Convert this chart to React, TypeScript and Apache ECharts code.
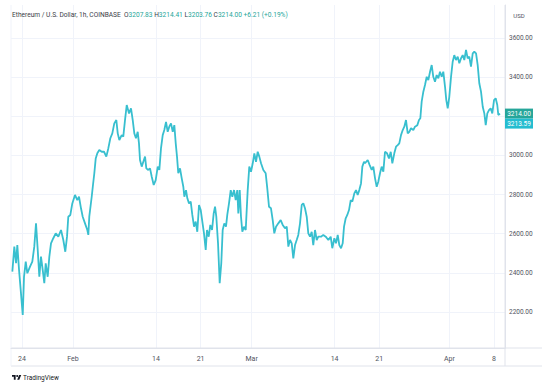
import React, { useEffect, useRef } from "react";
import * as echarts from "echarts";

// ---------- data ----------
const BASE_DATE = "2022-02-01T00:00:00Z";
// [days since 2022-02-01 00:00 UTC, ETH/USD price]
const priceHistory: [number, number][] = [
  [-9.51, 2406], [-9.2, 2534], [-8.93, 2449], [-8.73, 2542], [-8.46, 2415], [-8.2, 2313], [-7.88, 2185], [-7.68, 2380],
  [-7.41, 2457], [-7.16, 2398], [-6.74, 2432], [-6.38, 2457], [-6.07, 2534], [-5.8, 2653], [-5.53, 2517], [-5.28, 2380],
  [-5.02, 2483], [-4.75, 2415], [-4.5, 2347], [-4.28, 2449], [-3.97, 2380], [-3.71, 2483], [-3.45, 2551], [-3.09, 2577],
  [-2.71, 2602], [-2.3, 2585], [-1.88, 2619], [-1.52, 2568], [-1.21, 2508], [-0.94, 2585], [-0.74, 2687], [-0.42, 2696],
  [-0.11, 2755], [0.31, 2798], [0.67, 2772], [0.94, 2789], [1.25, 2730], [1.52, 2687], [1.88, 2653], [2.24, 2619],
  [2.4, 2594], [2.55, 2687], [2.93, 2789], [3.13, 2849], [3.34, 2909], [3.56, 2985], [3.81, 3011], [4.12, 3028],
  [4.5, 3019], [4.86, 3019], [5.22, 2994], [5.53, 3036], [5.85, 3088], [6.16, 3113], [6.47, 3164], [6.79, 3181],
  [7.01, 3113], [7.26, 3079], [7.63, 3104], [7.88, 3096], [8.15, 3181], [8.42, 3258],
  [8.78, 3215], [9.09, 3241], [9.36, 3181], [9.61, 3113], [9.87, 3088], [10.14, 3121], [10.34, 3062], [10.5, 2977],
  [10.77, 2943], [11.02, 2968], [11.29, 2994], [11.49, 2934], [11.8, 2926], [12.07, 2934], [12.34, 2891], [12.65, 2849],
  [12.96, 2874], [13.28, 2943], [13.53, 2926], [13.79, 3036], [14.06, 3104], [14.31, 3130], [14.58, 3172], [14.84, 3121],
  [15.09, 3147], [15.36, 3164], [15.63, 3121], [15.88, 3155], [16.1, 3062], [16.3, 2994], [16.5, 2909], [16.77, 2934],
  [17.04, 2883], [17.29, 2840], [17.45, 2789], [17.71, 2823], [17.92, 2781], [18.18, 2755], [18.45, 2764], [18.7, 2696],
  [18.97, 2636], [19.23, 2662], [19.48, 2610], [19.75, 2747], [20.02, 2721], [20.27, 2662], [20.53, 2602], [20.8, 2517],
  [21.0, 2619], [21.27, 2585], [21.52, 2645], [21.79, 2619], [22.05, 2704], [22.26, 2738], [22.46, 2687], [22.73, 2551],
  [22.99, 2347], [23.24, 2449], [23.46, 2619], [23.71, 2653], [23.98, 2636], [24.18, 2696], [24.45, 2755], [24.72, 2823],
  [24.97, 2789], [25.24, 2823], [25.5, 2772], [25.75, 2823], [25.91, 2704], [26.13, 2823], [26.33, 2687], [26.54, 2610],
  [26.8, 2636], [27.07, 2619],
  [27.38, 2823], [27.63, 2943], [27.9, 2917], [28.17, 2960], [28.42, 3011], [28.68, 2968], [28.95, 3019], [29.2, 2994],
  [29.47, 2960], [29.83, 2926], [30.2, 2909], [30.45, 2832], [30.72, 2738], [31.03, 2730], [31.3, 2670], [31.55, 2602],
  [31.82, 2636], [32.18, 2653], [32.55, 2670], [32.87, 2645], [33.23, 2628], [33.5, 2636], [33.75, 2534], [34.01, 2568],
  [34.28, 2551], [34.53, 2474], [34.8, 2542], [35.06, 2568], [35.31, 2594], [35.58, 2653], [35.85, 2747], [36.1, 2755],
  [36.36, 2730], [36.63, 2687], [36.88, 2602], [37.15, 2585], [37.41, 2610], [37.66, 2542], [37.93, 2619], [38.2, 2568],
  [38.45, 2585], [38.87, 2585], [39.23, 2594], [39.61, 2585], [40.02, 2568], [40.39, 2585], [40.64, 2526], [40.96, 2577],
  [41.22, 2551], [41.49, 2594], [41.74, 2542], [42.01, 2526], [42.27, 2551], [42.48, 2636], [42.74, 2679], [42.99, 2696],
  [43.26, 2721], [43.53, 2772], [43.78, 2764], [44.09, 2806], [44.36, 2823], [44.62, 2798], [44.87, 2823], [45.14, 2857],
  [45.35, 2943], [45.61, 2968],
  [45.77, 2960], [46.19, 2977], [46.5, 2951], [46.82, 2926], [47.07, 2943], [47.34, 2883], [47.6, 2840], [47.85, 2866],
  [48.12, 2909], [48.38, 2943], [48.64, 2917], [48.9, 3019], [49.22, 3011], [49.53, 2985], [49.8, 3019], [50.05, 2960],
  [50.36, 3011], [50.63, 3045], [50.89, 3053], [51.14, 3062], [51.41, 3104], [51.68, 3130], [51.93, 3147], [52.19, 3181],
  [52.46, 3113], [52.71, 3121], [52.98, 3139], [53.34, 3130], [53.6, 3147], [53.97, 3155], [54.23, 3181], [54.44, 3190],
  [54.65, 3275], [54.91, 3326], [55.17, 3360], [55.44, 3402], [55.69, 3385], [55.96, 3428], [56.22, 3462], [56.47, 3402],
  [56.74, 3377], [57.0, 3411], [57.26, 3394], [57.52, 3428], [57.79, 3402], [58.04, 3428], [58.31, 3351], [58.51, 3283],
  [58.73, 3241], [58.98, 3300], [59.25, 3402], [59.51, 3479], [59.76, 3513], [60.03, 3488], [60.3, 3505], [60.55, 3471],
  [60.81, 3496], [61.08, 3513], [61.33, 3488], [61.6, 3539], [61.86, 3496], [62.11, 3505], [62.38, 3454], [62.65, 3522],
  [62.9, 3530], [63.17, 3522], [63.43, 3462], [63.68, 3369], [63.95, 3326], [64.22, 3249], [64.47, 3215], [64.69, 3155],
  [64.94, 3215], [65.2, 3232], [65.47, 3241], [65.72, 3215], [65.99, 3283], [66.25, 3292], [66.5, 3258], [66.66, 3207],
  [66.93, 3214],
];

const tickDates = ["2022-01-24", "2022-02-01", "2022-02-14", "2022-02-21", "2022-03-01", "2022-03-14", "2022-03-21", "2022-04-01", "2022-04-08"];
const tickLabels = ["24", "Feb", "14", "21", "Mar", "14", "21", "Apr", "8"];
const priceTicks = [2200, 2400, 2600, 2800, 3000, 3200, 3400, 3600];
const hiddenPriceLabels = [3200];

const viewStartDays = -9.72;
const viewEndDays = 67.71;
const priceMin = 2016;
const priceMax = 3769;

const symbolName = "Ethereum / U.S. Dollar, 1h, COINBASE";
const ohlcKeys = ["O", "H", "L", "C"];
const ohlcValues = ["3207.83", "3214.41", "3203.76", "3214.00"];
const changeText = "+6.21 (+0.19%)";
const lastPrice = 3214.0;
const lastPriceTags = ["3214.00", "3213.59"];
const currency = "USD";

// ---------- style ----------
const FONT = 'Roboto, "Noto Sans", "DejaVu Sans", sans-serif';
const LINE_COLOR = "#38bfcf";
const TEXT_COLOR = "#50535e";
const GRID_COLOR = "#f0f3fa";
const BORDER_COLOR = "#e0e3eb";
const UP_COLOR = "#26a69a";
const W = 542;
const H = 385;
const GRID = { left: 11, right: 37, top: 5, bottom: 37 };

echarts.graphic.registerShape(
  "tvLogo",
  echarts.graphic.extendPath(
    "M14 22H7V11H0V4h14v18zM28 22h-8l7.5-18h8L28 22zM24 8a4 4 0 1 1-8 0a4 4 0 1 1 8 0z",
    {}
  ) as any
);

const DAY_MS = 86400000;
const baseMs = Date.parse(BASE_DATE);
const toMs = (d: number) => baseMs + d * DAY_MS;
const tickMs = tickDates.map((d) => Date.parse(d + "T00:00:00Z"));

export default function App() {
  const ref = useRef<HTMLDivElement>(null);

  useEffect(() => {
    if (!ref.current) return;
    const chart = echarts.init(ref.current, null, { renderer: "svg", width: W, height: H });

    const titleText =
      `{n|${symbolName}}  ` +
      ohlcKeys.map((k, i) => `{k|${k}}{v|${ohlcValues[i]}}`).join(" ") +
      ` {v|${changeText}}`;

    const option: any = {
      animation: false,
      backgroundColor: "#ffffff",
      textStyle: { fontFamily: FONT },
      title: {
        left: 12,
        top: 11,
        padding: 0,
        text: titleText,
        textStyle: {
          fontSize: 6.6,
          fontWeight: "normal",
          color: TEXT_COLOR,
          fontFamily: FONT,
          rich: {
            n: { fontSize: 6.6, color: "#3a3d47", fontFamily: FONT },
            k: { fontSize: 6.6, color: "#3a3d47", fontFamily: FONT },
            v: { fontSize: 6.6, color: UP_COLOR, fontFamily: FONT },
          },
        },
      },
      grid: { ...GRID },
      xAxis: {
        type: "value",
        min: toMs(viewStartDays),
        max: toMs(viewEndDays),
        axisLine: { show: true, lineStyle: { color: BORDER_COLOR, width: 1 } },
        axisTick: { show: false, customValues: tickMs },
        axisLabel: {
          customValues: tickMs,
          formatter: (v: number) => {
            const i = tickMs.indexOf(v);
            return i >= 0 ? tickLabels[i] : "";
          },
          color: TEXT_COLOR,
          fontSize: 7,
          fontFamily: FONT,
          margin: 7,
        },
        splitLine: { show: true, lineStyle: { color: GRID_COLOR, width: 1 } },
      },
      yAxis: {
        type: "value",
        position: "right",
        min: priceMin,
        max: priceMax,
        axisLine: { show: true, lineStyle: { color: BORDER_COLOR, width: 1 } },
        axisTick: { show: false, customValues: priceTicks },
        axisLabel: {
          customValues: priceTicks.filter((p) => !hiddenPriceLabels.includes(p)),
          formatter: (v: number) => v.toFixed(2),
          color: TEXT_COLOR,
          fontSize: 6.5,
          fontFamily: FONT,
          margin: 4,
        },
        splitLine: { show: true, lineStyle: { color: GRID_COLOR, width: 1 } },
      },
      series: [
        {
          type: "line",
          data: priceHistory.map(([d, p]) => [toMs(d), p]),
          showSymbol: false,
          symbol: "none",
          lineStyle: { color: LINE_COLOR, width: 1.8 },
          clip: true,
        },
      ],
    };
    chart.setOption(option);

    const plotRight = W - GRID.right;
    const plotBottom = H - GRID.bottom;
    const yTag = chart.convertToPixel({ yAxisIndex: 0 }, lastPrice) as number;
    const tagColors = [UP_COLOR, "#24bdd0"];
    const tagEls: any[] = [];
    lastPriceTags.forEach((t, i) => {
      const cy = yTag + i * 10;
      tagEls.push({
        type: "rect",
        shape: { x: plotRight, y: cy - 5, width: 28, height: 10 },
        style: { fill: tagColors[i] },
        z: 10,
      });
      tagEls.push({
        type: "text",
        x: plotRight + 14,
        y: cy,
        style: { text: t, fill: "#ffffff", fontSize: 6.5, fontFamily: FONT, align: "center", verticalAlign: "middle" },
        z: 11,
      });
    });

    chart.setOption({
      graphic: [
        { type: "line", shape: { x1: GRID.left, y1: plotBottom, x2: W, y2: plotBottom }, style: { stroke: BORDER_COLOR, lineWidth: 1 } },
        { type: "line", shape: { x1: GRID.left, y1: plotBottom + 18, x2: W, y2: plotBottom + 18 }, style: { stroke: BORDER_COLOR, lineWidth: 1 } },
        { type: "line", shape: { x1: plotRight, y1: GRID.top, x2: plotRight, y2: plotBottom + 18 }, style: { stroke: BORDER_COLOR, lineWidth: 1 } },
        { type: "line", shape: { x1: GRID.left, y1: GRID.top, x2: GRID.left, y2: plotBottom + 18 }, style: { stroke: GRID_COLOR, lineWidth: 1 } },
        {
          type: "text",
          x: plotRight + 14,
          y: 15,
          style: { text: currency, fill: TEXT_COLOR, fontSize: 6, fontFamily: FONT, align: "center", verticalAlign: "middle" },
        },
        { type: "tvLogo", x: 12, y: 374, scaleX: 0.26, scaleY: 0.26, style: { fill: "#131722" } },
        {
          type: "text",
          x: 23,
          y: 378,
          style: { text: "TradingView", fill: "#131722", fontSize: 6.5, fontFamily: FONT, verticalAlign: "middle" },
        },
        ...tagEls,
      ],
    });

    return () => chart.dispose();
  }, []);

  return (
    <div
      ref={ref}
      style={{ position: "absolute", left: 0, top: 0, width: W, height: H, background: "#fff" }}
    />
  );
}
